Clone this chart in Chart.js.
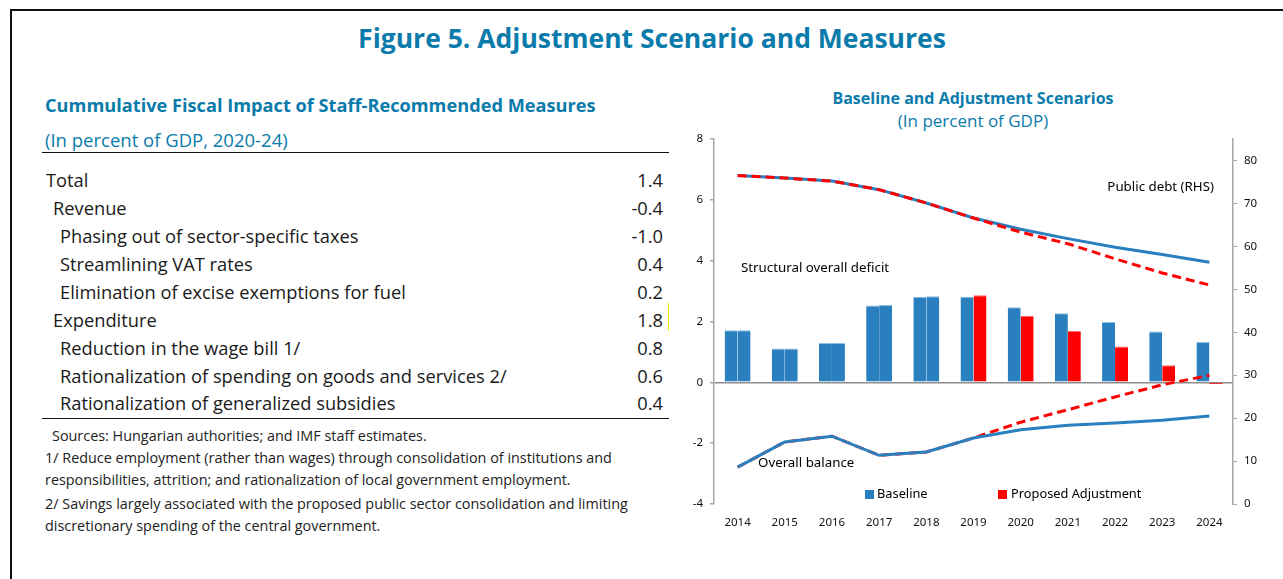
<!DOCTYPE html>
<html>
<head>
<meta charset="utf-8">
<title>Figure 5. Adjustment Scenario and Measures</title>
<script src="https://cdn.jsdelivr.net/npm/chart.js@4"></script>
<style>
  body { margin: 0; width: 1283px; height: 579px; overflow: hidden; background: #fff; font-family: "Open Sans", sans-serif; position: relative; }
  .frame { position: absolute; left: 10px; top: 9px; width: 1300px; height: 620px; border-left: 2px solid #111; border-top: 2px solid #111; }
  .t { position: absolute; white-space: nowrap; line-height: 22px; height: 22px; }
  .teal { color: #0b7bab; }
  .row { position: absolute; left: 42px; width: 621px; height: 22px; line-height: 22px; font-size: 18.3px; color: #1a1a1a; display: flex; justify-content: space-between; white-space: nowrap; }
  .rule { position: absolute; left: 42px; width: 627px; height: 0; border-top: 1.5px solid #111; }
  .note { position: absolute; left: 45px; white-space: nowrap; font-size: 14.4px; color: #222; line-height: 20px; height: 20px; }
  #chart-box { position: absolute; left: 680px; top: 125px; width: 600px; height: 420px; }
</style>
</head>
<body>
<div class="frame"></div>

<div class="t teal" style="left:0;width:1304px;text-align:center;top:24px;line-height:28px;height:28px;font-size:26.5px;font-weight:700;">Figure 5. Adjustment Scenario and Measures</div>

<div class="t teal" style="left:45px;top:94px;font-size:18.2px;font-weight:700;">Cummulative Fiscal Impact of Staff-Recommended Measures</div>
<div class="t teal" style="left:45px;top:129px;font-size:18.5px;">(In percent of GDP, 2020-24)</div>
<div class="rule" style="top:152px"></div>

<div class="row" style="top:169px"><span style="padding-left:4px">Total</span><span>1.4</span></div>
<div class="row" style="top:197px"><span style="padding-left:11px">Revenue</span><span>-0.4</span></div>
<div class="row" style="top:225px"><span style="padding-left:18px">Phasing out of sector-specific taxes</span><span>-1.0</span></div>
<div class="row" style="top:253px"><span style="padding-left:18px">Streamlining VAT rates</span><span>0.4</span></div>
<div class="row" style="top:281px"><span style="padding-left:18px">Elimination of excise exemptions for fuel</span><span>0.2</span></div>
<div class="row" style="top:309px"><span style="padding-left:11px">Expenditure</span><span>1.8</span></div>
<div class="row" style="top:337px"><span style="padding-left:18px">Reduction in the wage bill 1/</span><span>0.8</span></div>
<div class="row" style="top:365px"><span style="padding-left:18px">Rationalization of spending on goods and services 2/</span><span>0.6</span></div>
<div class="row" style="top:392px"><span style="padding-left:18px">Rationalization of generalized subsidies</span><span>0.4</span></div>
<div style="position:absolute;left:668px;top:303px;width:0;height:28px;border-left:1px solid #f2e600;"></div>
<div class="rule" style="top:418px"></div>

<div class="note" style="top:426px;left:52px">Sources: Hungarian authorities; and IMF staff estimates.</div>
<div class="note" style="top:448px">1/ Reduce employment (rather than wages) through consolidation of institutions and</div>
<div class="note" style="top:470px">responsibilities, attrition; and rationalization of local government employment.</div>
<div class="note" style="top:494px">2/ Savings largely associated with the proposed public sector consolidation and limiting</div>
<div class="note" style="top:516px">discretionary spending of the central government.</div>

<div class="t teal" style="left:773px;width:400px;text-align:center;top:87px;font-size:16px;font-weight:700;">Baseline and Adjustment Scenarios</div>
<div class="t teal" style="left:773px;width:400px;text-align:center;top:110px;font-size:17px;">(In percent of GDP)</div>

<div id="chart-box"><canvas id="myChart"></canvas></div>

<script>
'use strict';

let years = ['2014', '2015', '2016', '2017', '2018', '2019', '2020', '2021', '2022', '2023', '2024'];

// structural overall deficit, percent of GDP (bars, left axis)
let deficitBaseline = [1.71, 1.11, 1.29, 2.53, 2.81, 2.81, 2.47, 2.27, 1.98, 1.67, 1.33];
let deficitAdjusted = [1.71, 1.11, 1.29, 2.54, 2.83, 2.86, 2.18, 1.70, 1.18, 0.56, -0.05];

// overall balance, percent of GDP (lines, left axis)
let balanceBaseline = [-2.79, -1.96, -1.77, -2.40, -2.29, -1.83, -1.56, -1.41, -1.34, -1.25, -1.11];
let balanceAdjusted = [-2.79, -1.96, -1.77, -2.40, -2.29, -1.83, -1.31, -0.90, -0.48, -0.08, 0.23];

// public debt, percent of GDP (lines, right axis)
let debtBaseline = [76.5, 75.9, 75.2, 73.2, 70.1, 66.6, 64.0, 61.8, 59.8, 58.1, 56.3];
let debtAdjusted = [76.5, 75.9, 75.2, 73.2, 70.1, 66.6, 63.3, 60.6, 57.1, 53.8, 51.0];

let leftTicks = [-4, 8, 2];   // min, max, step
let rightTicks = [0, 85, 10];

let firstAdjustedYear = years.indexOf('2019');

let BLUE = '#2a7fbf';
let RED = '#ff0000';
let AXIS = '#a6a6a6';
let tickFont = { family: 'Noto Sans', size: 11.5 };

let adjustedColors = years.map(function (y, i) {
    return i < firstAdjustedYear ? BLUE : RED;
});

// text labels and legend sit inside the plot, so they are drawn here
let notesPlugin = {
    id: 'notes',
    afterDatasetsDraw(chart) {
        let ctx = chart.ctx;
        let a = chart.chartArea;
        ctx.save();
        ctx.fillStyle = '#000';
        ctx.textBaseline = 'middle';
        ctx.font = '13.3px "Noto Sans"';
        ctx.textAlign = 'right';
        ctx.fillText('Public debt (RHS)', a.right - 19, a.top + 48);
        ctx.textAlign = 'left';
        ctx.fillText('Structural overall deficit', a.left + 27, a.top + 129);
        ctx.fillText('Overall balance', a.left + 44, a.top + 324);

        ctx.font = '12.8px "Noto Sans"';
        ctx.fillStyle = BLUE;
        ctx.fillRect(a.left + 151, a.top + 351, 9, 9);
        ctx.fillStyle = RED;
        ctx.fillRect(a.left + 284, a.top + 351, 9, 9);
        ctx.fillStyle = '#000';
        ctx.fillText('Baseline', a.left + 163, a.top + 355);
        ctx.fillText('Proposed Adjustment', a.left + 297, a.top + 355);
        ctx.restore();
    }
};

let ctx = document.getElementById('myChart').getContext('2d');

let myChart = new Chart(ctx, {
    type: 'bar',
    data: {
        labels: years,
        datasets: [{
            type: 'line',
            label: 'Public debt - Proposed Adjustment',
            data: debtAdjusted,
            yAxisID: 'y2',
            borderColor: RED,
            borderWidth: 3,
            borderDash: [9, 5],
            pointRadius: 0,
            fill: false,
            order: 0
        }, {
            type: 'line',
            label: 'Overall balance - Baseline',
            data: balanceBaseline,
            yAxisID: 'y',
            borderColor: BLUE,
            borderWidth: 3,
            pointRadius: 0,
            fill: false,
            order: 1
        }, {
            type: 'line',
            label: 'Overall balance - Proposed Adjustment',
            data: balanceAdjusted,
            yAxisID: 'y',
            borderColor: RED,
            borderWidth: 3,
            borderDash: [9, 5],
            pointRadius: 0,
            fill: false,
            order: 2
        }, {
            type: 'line',
            label: 'Public debt - Baseline',
            data: debtBaseline,
            yAxisID: 'y2',
            borderColor: BLUE,
            borderWidth: 3,
            pointRadius: 0,
            fill: false,
            order: 3
        }, {
            label: 'Baseline',
            data: deficitBaseline,
            yAxisID: 'y',
            backgroundColor: BLUE,
            borderColor: '#8dbde3',
            borderWidth: { top: 1, left: 0, right: 0, bottom: 0 },
            borderSkipped: 'bottom',
            categoryPercentage: 0.55,
            barPercentage: 1,
            order: 4
        }, {
            label: 'Proposed Adjustment',
            data: deficitAdjusted,
            yAxisID: 'y',
            backgroundColor: adjustedColors,
            borderColor: adjustedColors.map(function (c) { return c === RED ? '#ff6a6a' : '#8dbde3'; }),
            borderWidth: { top: 1, left: 0, right: 0, bottom: 0 },
            borderSkipped: 'bottom',
            categoryPercentage: 0.55,
            barPercentage: 1,
            order: 5
        }]
    },
    options: {
        responsive: true,
        maintainAspectRatio: false,
        animation: false,
        layout: { padding: { top: 14, right: 0, bottom: 0, left: 0 } },
        plugins: {
            legend: { display: false },
            tooltip: { enabled: false }
        },
        scales: {
            x: {
                grid: { display: false, drawTicks: false },
                border: { display: false },
                ticks: { font: tickFont, color: '#111', padding: 12, maxRotation: 0 },
                afterFit: function (s) { s.height = 41; }
            },
            y: {
                position: 'left',
                min: leftTicks[0],
                max: leftTicks[1],
                ticks: { stepSize: leftTicks[2], font: tickFont, color: '#111', padding: 7 },
                grid: {
                    color: function (c) { return c.tick && c.tick.value === 0 ? '#8c8c8c' : 'rgba(0,0,0,0)'; },
                    lineWidth: 1.5,
                    tickColor: AXIS,
                    tickLength: 4
                },
                border: { color: AXIS, width: 1.5 },
                afterFit: function (s) { s.width = 34; }
            },
            y2: {
                position: 'right',
                min: rightTicks[0],
                max: rightTicks[1],
                ticks: { stepSize: rightTicks[2], includeBounds: false, font: tickFont, color: '#111', padding: 7 },
                grid: { drawOnChartArea: false, tickColor: AXIS, tickLength: 4 },
                border: { color: AXIS, width: 1.5 },
                afterFit: function (s) { s.width = 47; }
            }
        }
    },
    plugins: [notesPlugin]
});
</script>
</body>
</html>
